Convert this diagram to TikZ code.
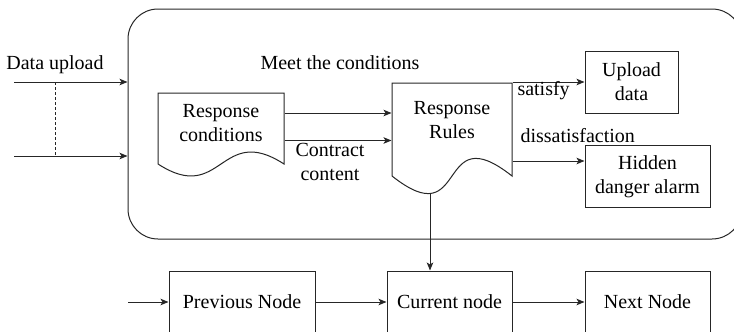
\documentclass[tikz,border=0pt]{standalone}
\usepackage{fontspec}
\setmainfont{Liberation Serif}
\newfontfamily\labelface{Liberation Serif}
\usetikzlibrary{arrows.meta}

\begin{document}
\begin{tikzpicture}[x=1pt, y=-1pt, line width=1pt,
  ink/.style={draw=black!85},
  every node/.style={font=\labelface\fontsize{20}{24}\selectfont, inner sep=0pt, text=black},
  arr/.style={ink, -{Stealth[length=8pt, width=6.5pt, inset=2pt]}},
  box/.style={ink, align=center, minimum width=#1, minimum height=62pt},
  doc/.style={align=center, minimum width=#1},
  lbl/.style={anchor=base},
  lblw/.style={anchor=base west}]
\useasboundingbox (0,0) rectangle (734,332);

% container panel
\node[ink, rounded corners=30pt, minimum width=614pt, minimum height=230pt] (panel) at (435,124) {};

% document-shaped steps (outline drawn by hand, text node on top)
\draw[ink] (158,93) -- (284,93) -- (284,164)
  .. controls (220,122.5) and (222,205.5) .. (158,164) -- cycle;
\node[doc=126pt] (cond) at (221,123.5) {Response\\conditions};

\draw[ink] (392,83) -- (512,83) -- (512,176)
  .. controls (435,115) and (469,237) .. (392,176) -- cycle;
\node[doc=120pt] (rules) at (452,120.5) {Response\\Rules};
\coordinate (trough) at (430,193.5);

% outcome boxes
\node[box=93pt] (upload) at (631.5,82) {Upload\\data};
\node[box=125pt] (alarm) at (647.5,176.5) {Hidden\\danger alarm};

% node chain
\node[box=146pt] (prev) at (242,302) {Previous Node};
\node[box=125pt] (curr) at (449.5,302) {Current node};
\node[box=125pt] (next) at (647.5,302) {Next Node};

% free ends
\coordinate (in1) at (14,82);
\coordinate (in2) at (14,156);
\coordinate (d1) at (55,82);
\coordinate (d2) at (55,156);
\coordinate (chainIn) at (128,302);

% connectors
\draw[arr] (in1) -- (panel.west |- in1);
\draw[arr] (in2) -- (panel.west |- in2);
\draw[ink, line width=0.8pt, dash pattern=on 3pt off 2pt] (d1) -- (d2);

\draw[arr] (cond.east |- 0,113) -- (rules.west |- 0,113);
\draw[arr] (cond.east |- 0,140.5) -- (rules.west |- 0,140.5);

\draw[arr] (rules.east |- upload.west) -- (upload.west);
\draw[arr] (rules.east |- alarm.west) ++(0,-15.5) coordinate (ds) -- (alarm.west |- ds);

\draw[arr] (trough) -- (curr.north -| trough);

\draw[arr] (chainIn) -- (prev.west);
\draw[arr] (prev.east) -- (curr.west);
\draw[arr] (curr.east) -- (next.west);

% labels
\node[lbl] (lupload) at (55,69) {Data upload};
\node[lbl] (lmeet) at (340,69) {Meet the conditions};
\node[lblw] (lsat) at (517,95) {satisfy};
\node[lblw] (ldis) at (520,142) {dissatisfaction};
\node[lbl] (lcon1) at (330,156) {Contract};
\node[lbl] (lcon2) at (330,180) {content};
\end{tikzpicture}
\end{document}
